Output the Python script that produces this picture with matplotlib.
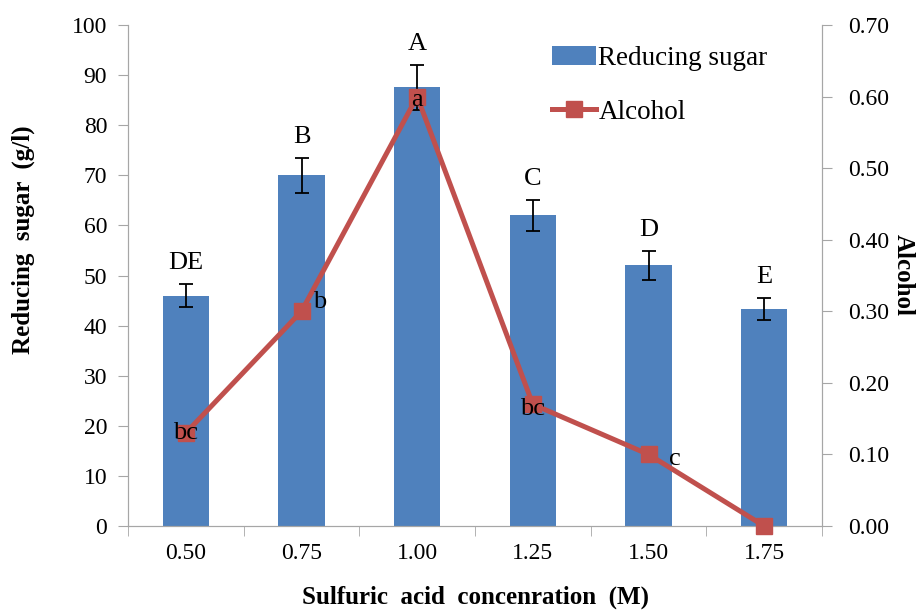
import numpy as np
import matplotlib.pyplot as plt

plt.rcParams['font.family'] = ['Liberation Serif', 'DejaVu Serif']

# data
conc = ['0.50', '0.75', '1.00', '1.25', '1.50', '1.75']
sugar = [46.0, 70.0, 87.6, 62.0, 52.0, 43.3]
sugar_err = [2.3, 3.5, 4.5, 3.1, 2.8, 2.2]
sugar_letters = ['DE', 'B', 'A', 'C', 'D', 'E']
alcohol = [0.13, 0.30, 0.60, 0.17, 0.10, 0.00]
alcohol_letters = ['bc', 'b', 'a', 'bc', 'c', '']

grey = '#a6a6a6'
x = np.arange(len(conc))

fig = plt.figure(figsize=(9.18, 6.10), dpi=100)
ax = fig.add_axes([128 / 918, 84 / 610, 694 / 918, 501 / 610])

ax.bar(x, sugar, width=0.4, color='#4f81bd', label='Reducing sugar', zorder=2)
ax.errorbar(x, sugar, yerr=sugar_err, fmt='none', ecolor='black', elinewidth=1.3,
            capsize=5, capthick=1.3, zorder=3)
for xi, s, e, lab in zip(x, sugar, sugar_err, sugar_letters):
    ax.text(xi, s + e + 2.0, lab, ha='center', va='bottom', fontsize=19)

ax.set_xlim(-0.5, len(conc) - 0.5)
ax.set_ylim(0, 100)
ax.set_yticks(np.arange(0, 101, 10))
ax.set_xticks(x)
ax.set_xticklabels(conc)
ax.set_xticks(np.arange(-0.5, len(conc), 1), minor=True)
ax.tick_params(axis='x', which='major', length=0, labelsize=17, pad=12)
ax.tick_params(axis='x', which='minor', length=7, color=grey, direction='out')
ax.tick_params(axis='y', labelsize=17, length=7, color=grey, pad=8)
ax.set_ylabel('Reducing  sugar  (g/l)', fontsize=18, fontweight='bold')
ax.yaxis.set_label_coords(-0.134, 0.571)
ax.set_xlabel('Sulfuric  acid  concenration  (M)', fontsize=18, fontweight='bold', labelpad=16)

ax2 = ax.twinx()
ax2.plot(x, alcohol, color='#c0504d', lw=3.6, marker='s', ms=11.5, label='Alcohol', zorder=4,
         clip_on=False)
ax2.set_ylim(0, 0.70)
ax2.set_yticks(np.arange(0, 0.71, 0.1))
ax2.set_yticklabels(['%.2f' % v for v in np.arange(0, 0.71, 0.1)])
ax2.tick_params(axis='y', labelsize=17, length=7, color=grey, pad=12)
ax2.set_ylabel('Alcohol', fontsize=18, fontweight='bold', rotation=-90, labelpad=18)

offsets = [(0, 0), (0.16, 0.013), (0, -0.005), (0, -0.007), (0.23, -0.007), (0, 0)]
for xi, a, lab, (dx, dy) in zip(x, alcohol, alcohol_letters, offsets):
    if lab:
        ax2.text(xi + dx, a + dy, lab, ha='center', va='center', fontsize=19, zorder=5)

for a in (ax, ax2):
    a.spines['top'].set_visible(False)
    for s in ('left', 'right', 'bottom'):
        a.spines[s].set_color(grey)

h1, l1 = ax.get_legend_handles_labels()
h2, l2 = ax2.get_legend_handles_labels()
ax2.legend(h1 + h2, l1 + l2, loc='upper left', bbox_to_anchor=(528 / 918, 1 - 22 / 610),
           bbox_transform=fig.transFigure, frameon=False, fontsize=19.5,
           handlelength=1.6, handletextpad=0.1, labelspacing=1.05)

fig.savefig('out.png', dpi=100)
